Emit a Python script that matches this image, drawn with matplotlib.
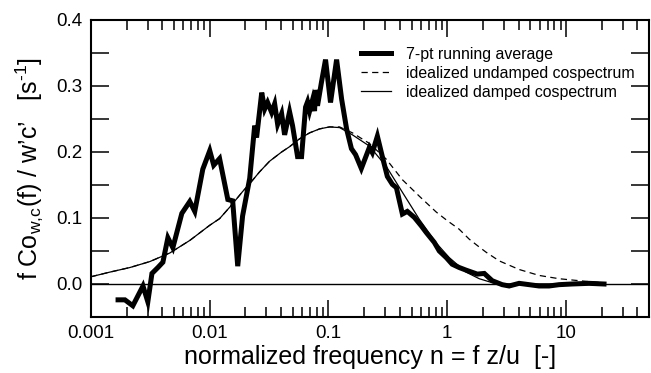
import matplotlib
matplotlib.use("Agg")
import matplotlib.pyplot as plt
from matplotlib.ticker import LogLocator, MultipleLocator, NullFormatter, FixedLocator, FixedFormatter

plt.rcParams['font.family'] = ['Liberation Sans', 'DejaVu Sans']
plt.rcParams['mathtext.fontset'] = 'custom'
plt.rcParams['mathtext.rm'] = 'Liberation Sans'
plt.rcParams['mathtext.it'] = 'Liberation Sans:italic'

# ---- data: 7-pt running average ----
avg_n = [0.00169, 0.00193, 0.00225, 0.00274, 0.00301, 0.00326, 0.00366, 0.00403,
         0.00444, 0.00489, 0.00582, 0.00679, 0.00748, 0.00874, 0.0100, 0.0108,
         0.0121, 0.0142, 0.0156, 0.0172, 0.0189, 0.0217, 0.0239, 0.0248, 0.0274,
         0.0290, 0.0307, 0.0332, 0.0352, 0.0373, 0.0403, 0.0427, 0.0470, 0.0498,
         0.0549, 0.0593, 0.0641, 0.0666, 0.0693, 0.0734, 0.0763, 0.0778, 0.0808,
         0.0873, 0.0944, 0.104, 0.117, 0.129, 0.142, 0.156, 0.169, 0.189, 0.221,
         0.234, 0.258, 0.284, 0.313, 0.345, 0.373, 0.419, 0.461, 0.528, 0.605,
         0.666, 0.778, 0.857, 0.981, 1.10, 1.26, 1.44, 1.79, 2.05, 2.39, 2.90,
         3.32, 4.03, 4.89, 5.93, 7.20, 8.74, 11.2, 15.6, 20.9]
avg_val = [-0.024, -0.024, -0.033, -0.003, -0.027, 0.016, 0.025, 0.033,
           0.070, 0.055, 0.107, 0.125, 0.110, 0.174, 0.202, 0.180,
           0.190, 0.128, 0.126, 0.027, 0.103, 0.160, 0.240, 0.222, 0.290,
           0.265, 0.275, 0.260, 0.273, 0.242, 0.258, 0.226, 0.261, 0.240,
           0.193, 0.193, 0.268, 0.276, 0.262, 0.279, 0.262, 0.294, 0.270,
           0.306, 0.340, 0.275, 0.340, 0.280, 0.235, 0.205, 0.196, 0.175, 0.207,
           0.199, 0.224, 0.193, 0.163, 0.151, 0.146, 0.106, 0.110, 0.101, 0.088,
           0.078, 0.063, 0.050, 0.040, 0.030, 0.025, 0.021, 0.015, 0.016, 0.005, -0.001,
           -0.003, 0.001, -0.001, -0.003, -0.003, -0.001, 0.000, 0.001, 0.000]

# ---- idealized damped cospectrum ----
damp_n = [0.001, 0.00144, 0.00213, 0.00313, 0.00461, 0.00679, 0.0100, 0.0121,
          0.0150, 0.0189, 0.0217, 0.0263, 0.0319, 0.0403, 0.0470, 0.0571,
          0.0693, 0.0841, 0.102, 0.124, 0.159, 0.221, 0.307, 0.419, 0.582,
          0.808, 1.04, 1.44, 1.86, 2.39, 3.13, 4.89, 20.9]
damp_val = [0.011, 0.018, 0.025, 0.034, 0.047, 0.066, 0.089, 0.099,
            0.118, 0.140, 0.152, 0.170, 0.186, 0.200, 0.208, 0.220,
            0.229, 0.235, 0.238, 0.237, 0.226, 0.209, 0.178, 0.139, 0.098,
            0.062, 0.040, 0.018, 0.008, 0.002, 0.000, 0.000, 0.000]

# ---- idealized undamped cospectrum ----
undamp_n = [0.001, 0.00144, 0.00213, 0.00313, 0.00461, 0.00679, 0.0100, 0.0121,
            0.0150, 0.0189, 0.0217, 0.0263, 0.0319, 0.0403, 0.0470, 0.0571,
            0.0693, 0.0841, 0.102, 0.124, 0.159, 0.221, 0.307, 0.419, 0.582,
            0.808, 1.00, 1.26, 1.53, 1.86, 2.13, 2.74, 4.03, 5.93, 8.74, 12.9, 20.1]
undamp_val = [0.011, 0.018, 0.025, 0.034, 0.047, 0.066, 0.089, 0.099,
              0.118, 0.140, 0.152, 0.170, 0.186, 0.200, 0.208, 0.220,
              0.229, 0.235, 0.238, 0.238, 0.229, 0.213, 0.189, 0.158, 0.133,
              0.109, 0.096, 0.083, 0.068, 0.056, 0.048, 0.035, 0.022, 0.013, 0.008, 0.005, 0.002]

xtick_vals = [0.001, 0.01, 0.1, 1, 10]
xtick_labels = ['0.001', '0.01', '0.1', '1', '10']
ytick_vals = [0.0, 0.1, 0.2, 0.3, 0.4]
ytick_labels = ['0.0', '0.1', '0.2', '0.3', '0.4']

fig = plt.figure(figsize=(6.51, 3.73), dpi=100)
ax = fig.add_axes([91/651, 56/373, 558/651, 297/373])

ax.axhline(0, color='black', lw=1.0, zorder=1)
ax.plot(undamp_n, undamp_val, color='black', lw=0.9, ls=(0, (5, 3.5)),
        label='idealized undamped cospectrum', zorder=2)
ax.plot(damp_n, damp_val, color='black', lw=0.9,
        label='idealized damped cospectrum', zorder=3)
ax.plot(avg_n, avg_val, color='black', lw=3.6, solid_joinstyle='miter',
        label='7-pt running average', zorder=4)

ax.set_xscale('log')
ax.set_xlim(0.001, 50)
ax.set_ylim(-0.05, 0.4)

ax.xaxis.set_major_locator(FixedLocator(xtick_vals))
ax.xaxis.set_major_formatter(FixedFormatter(xtick_labels))
ax.xaxis.set_minor_locator(LogLocator(base=10, subs=range(2, 10), numticks=20))
ax.xaxis.set_minor_formatter(NullFormatter())
ax.yaxis.set_major_locator(FixedLocator(ytick_vals))
ax.yaxis.set_major_formatter(FixedFormatter(ytick_labels))
ax.yaxis.set_minor_locator(MultipleLocator(0.05))

for s in ax.spines.values():
    s.set_linewidth(1.5)

ax.tick_params(which='both', direction='in', top=True, right=True, width=1.1,
               labelsize=13.5, pad=6)
ax.tick_params(axis='x', which='major', length=12)
ax.tick_params(axis='x', which='minor', length=7)
ax.tick_params(axis='y', which='both', length=13)

ax.set_xlabel('normalized frequency n = f z/u  [-]', fontsize=18, labelpad=2)
ax.set_ylabel("f Co$_{\\mathregular{w{,}c}}$(f) / w\u2019c\u2019   [s$^{\\text{-1}}$]",
              fontsize=18, labelpad=8)

h, l = ax.get_legend_handles_labels()
order = [2, 0, 1]
ax.legend([h[i] for i in order], [l[i] for i in order], loc='upper left',
          bbox_to_anchor=((361-91)/558, (317-47)/297), frameon=False,
          fontsize=11.4, borderpad=0, borderaxespad=0, handlelength=1.9,
          handletextpad=0.95, labelspacing=0.25)

fig.savefig('out.png', dpi=100)
